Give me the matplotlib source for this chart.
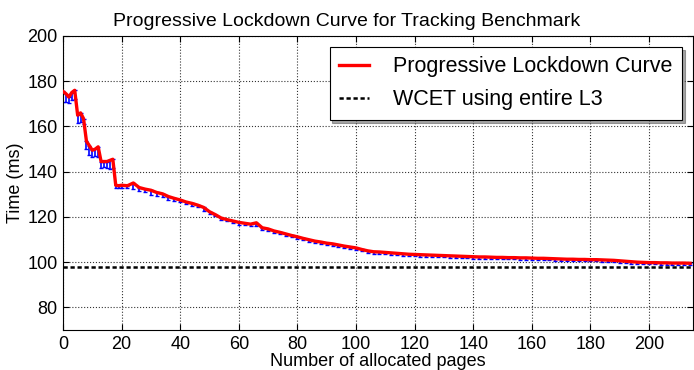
import numpy as np
import matplotlib
matplotlib.use("Agg")
import matplotlib.pyplot as plt

plt.rcParams["font.family"] = ["Liberation Sans", "DejaVu Sans"]

# Data
pages = list(range(0, 20)) + list(range(20, 216, 2))
times = [
    175.5, 174.5, 173.0, 175.0, 176.0, 165.0, 166.0, 163.5, 153.5, 151.5,
    149.5, 150.0, 151.0, 144.5, 144.5, 144.5, 145.0, 145.5, 134.0, 133.8,
    134.0, 133.8, 135.0, 133.0, 132.3, 131.8, 130.8, 130.2, 129.0, 128.2,
    127.5, 126.6, 126.0, 125.2, 124.2, 122.3, 121.0, 119.5, 118.8, 118.2,
    117.6, 117.2, 116.8, 117.4, 115.2, 114.7, 113.8, 113.2, 112.5, 111.8,
    111.2, 110.5, 109.9, 109.3, 108.9, 108.4, 108.1, 107.6, 107.1, 106.7,
    106.3, 105.6, 105.0, 104.6, 104.5, 104.3, 104.1, 103.9, 103.7, 103.5,
    103.4, 103.3, 103.2, 103.1, 103.0, 102.9, 102.8, 102.7, 102.6, 102.5,
    102.4, 102.3, 102.3, 102.2, 102.1, 102.1, 102.0, 102.0, 101.9, 101.9,
    101.8, 101.7, 101.7, 101.6, 101.5, 101.4, 101.3, 101.3, 101.2, 101.2,
    101.1, 101.1, 101.0, 100.9, 100.8, 100.6, 100.4, 100.2, 100.0, 99.9,
    99.8, 99.8, 99.7, 99.7, 99.6, 99.6, 99.6, 99.5,
]
lower_err = [
    4.5, 3.5, 2.5, 3.5, 4.0, 3.5, 4.0, 2.5, 3.5, 4.0,
    3.0, 3.0, 4.5, 3.0, 2.5, 3.0, 4.0, 4.0, 1.0, 0.8,
    1.0, 1.2, 2.5, 1.5, 1.5, 2.0, 1.5, 1.2, 1.5, 1.0,
    1.0, 1.0, 1.2, 1.0, 1.5, 1.0, 0.8, 1.0, 0.8, 0.8,
    1.0, 0.8, 0.8, 1.5, 0.8, 0.8, 0.8, 0.8, 0.8, 0.8,
    0.8, 0.8, 0.8, 0.8, 0.8, 0.8, 0.8, 0.8, 0.8, 0.8,
    0.8, 0.8, 0.8, 0.8, 0.8, 0.8, 0.8, 0.8, 0.8, 0.8,
    0.8, 0.8, 0.8, 0.8, 0.8, 0.8, 0.8, 0.8, 0.8, 0.8,
    0.8, 0.8, 0.8, 0.8, 0.8, 0.8, 0.8, 0.8, 0.8, 0.8,
    0.8, 0.8, 0.8, 0.8, 0.8, 0.8, 0.8, 0.8, 0.8, 0.8,
    0.8, 0.8, 0.8, 0.8, 0.8, 0.8, 0.8, 0.8, 0.8, 0.8,
    0.8, 0.8, 0.8, 0.8, 0.8, 0.8, 0.8, 0.8,
]
wcet = 97.7

fig = plt.figure(figsize=(6.94, 3.70), dpi=100)
ax = fig.add_axes([63 / 694, 40 / 370, 630 / 694, 294 / 370])

ax.errorbar(pages, times, yerr=[lower_err, [0] * len(times)], fmt="none",
            ecolor="blue", elinewidth=1.2, capsize=1.5, zorder=2)
ax.plot(pages, times, color="red", lw=2.4, label="Progressive Lockdown Curve", zorder=3)
ax.axhline(wcet, color="black", ls="--", lw=1.8, dashes=(1.7, 1.1),
           label="WCET using entire L3", zorder=3)

ax.set_xlim(0, 215)
ax.set_ylim(70, 200)
ax.set_xticks(range(0, 201, 20))
ax.set_yticks(range(80, 201, 20))
ax.tick_params(direction="in", top=True, right=True, labelsize=13, length=4, pad=4)
ax.grid(True, color="black", ls=":", lw=0.8, alpha=0.8)
ax.set_axisbelow(True)

# title sits centred on the figure, not on the axes
ax.set_title("Progressive Lockdown Curve for Tracking Benchmark", fontsize=14,
             pad=7, x=(347 - 63) / 630)
ax.set_xlabel("Number of allocated pages", fontsize=13, labelpad=0)
ax.set_ylabel("Time (ms)", fontsize=13, labelpad=2)

leg = ax.legend(loc="upper right", fontsize=15.5, fancybox=False, shadow=True,
                framealpha=1, edgecolor="black", handlelength=1.4,
                handletextpad=1.1, borderpad=0.45, labelspacing=0.55,
                borderaxespad=0.5)
leg.get_frame().set_linewidth(0.8)

fig.savefig("out.png", dpi=100)
